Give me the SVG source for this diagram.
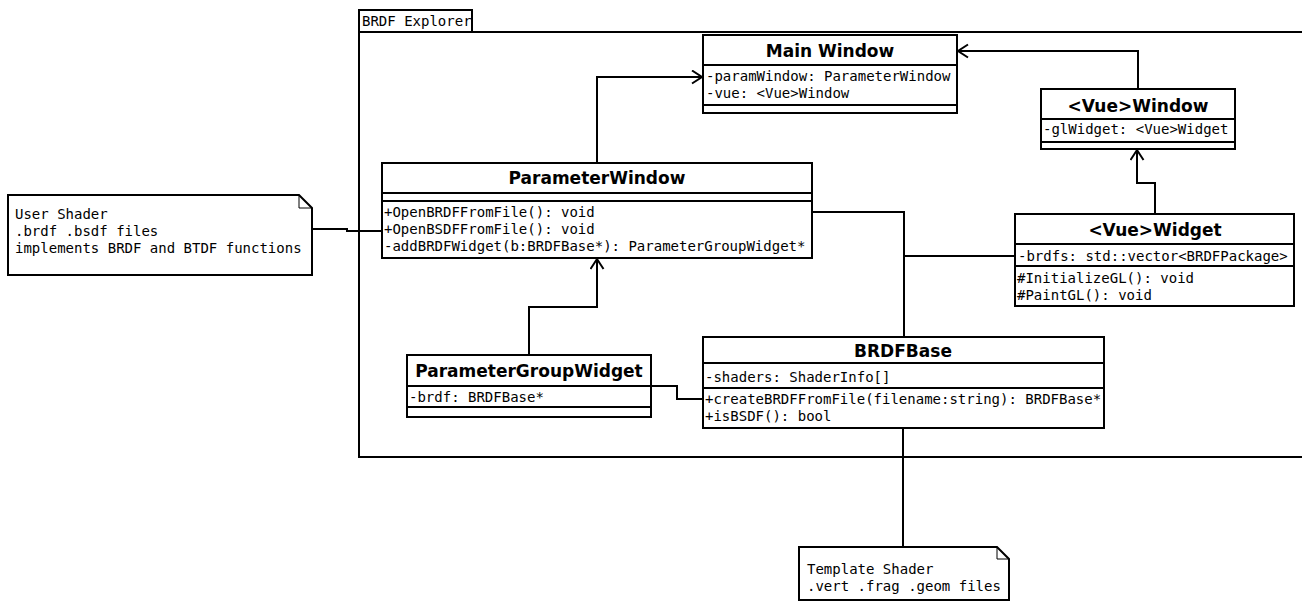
<svg xmlns="http://www.w3.org/2000/svg" width="1302" height="602" viewBox="0 0 1302 602">
<style>
.box{fill:#fff;stroke:#000;stroke-width:2}
.ln{fill:none;stroke:#000;stroke-width:2}
.thin{fill:none;stroke:#000;stroke-width:1}
.title{font-family:"DejaVu Sans",sans-serif;font-weight:bold;font-size:17px;text-anchor:middle;fill:#000}
.mono{font-family:"DejaVu Sans Mono",monospace;font-size:14px;fill:#000}
</style>
<defs>
<marker id="open" markerUnits="userSpaceOnUse" markerWidth="14" markerHeight="16" refX="11" refY="7.5" orient="auto">
<path d="M1,1 L11,7.5 L1,14" fill="none" stroke="#000" stroke-width="2"/>
</marker>
</defs>
<rect width="1302" height="602" fill="#fff"/>
<g id="package">
<rect class="box" x="359" y="32" width="960" height="425"/>
<rect class="box" x="359" y="10" width="113" height="22"/>
<text class="mono" x="362" y="26" font-size="13.5">BRDF Explorer</text>
</g>
<g id="connectors">
<path class="ln" d="M597,163 V77 H702" marker-end="url(#open)"/>
<path class="ln" d="M1138,89 V51 H958" marker-end="url(#open)"/>
<path class="ln" d="M1155,214 V183 H1137 V150" marker-end="url(#open)"/>
<path class="ln" d="M529,355 V307 H597 V259" marker-end="url(#open)"/>
<path class="ln" d="M812,212 H904 V337"/>
<path class="ln" d="M1015,256 H904"/>
<path class="ln" d="M651,386 H677 V399 H703"/>
<path class="ln" d="M312,229 H347 V231 H382"/>
<path class="ln" d="M903,428 V547"/>
</g>
<g id="mainWindow">
<rect class="box" x="703" y="35" width="254" height="78"/>
<path class="ln" d="M703,65 H957 M703,105 H957"/>
<text class="title" x="830" y="57">Main Window</text>
<text class="mono" x="706" y="81">-paramWindow: ParameterWindow</text>
<text class="mono" x="706" y="98">-vue: &lt;Vue&gt;Window</text>
</g>
<g id="vueWindow">
<rect class="box" x="1041" y="89" width="194" height="60"/>
<path class="ln" d="M1041,119 H1235 M1041,142 H1235"/>
<text class="title" x="1138" y="112">&lt;Vue&gt;Window</text>
<text class="mono" x="1043" y="134">-glWidget: &lt;Vue&gt;Widget</text>
</g>
<g id="parameterWindow">
<rect class="box" x="382" y="163" width="430" height="95"/>
<path class="ln" d="M382,193 H812 M382,201 H812"/>
<text class="title" x="597" y="184">ParameterWindow</text>
<text class="mono" x="384" y="217">+OpenBRDFFromFile(): void</text>
<text class="mono" x="384" y="234">+OpenBSDFFromFile(): void</text>
<text class="mono" x="384" y="251">-addBRDFWidget(b:BRDFBase*): ParameterGroupWidget*</text>
</g>
<g id="vueWidget">
<rect class="box" x="1015" y="214" width="279" height="92"/>
<path class="ln" d="M1015,244 H1294 M1015,266 H1294"/>
<text class="title" x="1155" y="236">&lt;Vue&gt;Widget</text>
<text class="mono" x="1018" y="261">-brdfs: std::vector&lt;BRDFPackage&gt;</text>
<text class="mono" x="1017" y="283">#InitializeGL(): void</text>
<text class="mono" x="1017" y="300">#PaintGL(): void</text>
</g>
<g id="parameterGroupWidget">
<rect class="box" x="407" y="355" width="244" height="62"/>
<path class="ln" d="M407,386 H651 M407,407 H651"/>
<text class="title" x="529" y="377">ParameterGroupWidget</text>
<text class="mono" x="409" y="402">-brdf: BRDFBase*</text>
</g>
<g id="brdfBase">
<rect class="box" x="703" y="337" width="401" height="91"/>
<path class="ln" d="M703,363 H1104 M703,388 H1104"/>
<text class="title" x="903" y="357">BRDFBase</text>
<text class="mono" x="705" y="382">-shaders: ShaderInfo[]</text>
<text class="mono" x="705" y="404">+createBRDFFromFile(filename:string): BRDFBase*</text>
<text class="mono" x="705" y="421">+isBSDF(): bool</text>
</g>
<g id="userShader">
<path class="box" d="M8,195 H299 L312,208 V275 H8 Z"/>
<path class="thin" d="M299,195 V208 H312"/>
<text class="mono" x="15" y="219">User Shader</text>
<text class="mono" x="15" y="236">.brdf .bsdf files</text>
<text class="mono" x="15" y="253">implements BRDF and BTDF functions</text>
</g>
<g id="templateShader">
<path class="box" d="M799,547 H997 L1009,559 V600 H799 Z"/>
<path class="thin" d="M997,547 V559 H1009"/>
<text class="mono" x="807" y="574">Template Shader</text>
<text class="mono" x="807" y="591">.vert .frag .geom files</text>
</g>
</svg>
